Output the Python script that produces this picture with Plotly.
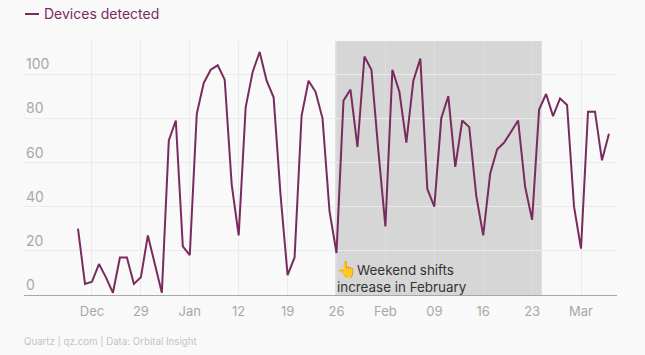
import pandas as pd
import plotly.graph_objects as go

series_name = "Devices detected"
start_date = "2019-12-20"
devices = [30, 5, 6, 14, 8, 1, 17, 17, 5, 8, 27, 14, 1, 70, 79, 22, 18, 82, 96, 102, 104, 97.5,
           50, 27, 85, 101, 110, 97, 89.5, 45, 9, 17, 81, 97, 92, 80, 38, 19, 88, 93, 67, 108,
           102, 65, 31, 102, 92, 69, 97, 107, 48, 40, 80, 90, 58, 79, 76, 45, 27, 55, 66, 69,
           74, 79, 49, 34, 84, 91, 81, 89, 86, 40, 21, 83, 83, 61, 73]
dates = pd.date_range(start_date, periods=len(devices), freq="D")

tick_dates = ["2019-12-22", "2019-12-29", "2020-01-05", "2020-01-12", "2020-01-19", "2020-01-26",
              "2020-02-02", "2020-02-09", "2020-02-16", "2020-02-23", "2020-03-01"]
tick_labels = ["Dec", "29", "Jan", "12", "19", "26", "Feb", "09", "16", "23", "Mar"]
y_ticks = [0, 20, 40, 60, 80, 100]
shade_start = "2020-01-25 20:00"
shade_end = "2020-02-24 09:00"
emoji = "👆"
annotation_lines = ["Weekend shifts", "increase in February"]
source = "Quartz | qz.com | Data: Orbital Insight"

W, H = 645, 355
L, R, T, B = 24, 617, 41, 295
BG = "#f9f9f9"
PURPLE = "#7a2b5e"
FONT = "Inter, Lato, sans-serif"

fig = go.Figure(go.Scatter(x=dates, y=devices, mode="lines", name=series_name,
                           line=dict(color=PURPLE, width=2), cliponaxis=False,
                           hoverinfo="x+y"))

fig.add_shape(type="rect", xref="x", yref="paper", x0=shade_start, x1=shade_end, y0=0, y1=1,
              fillcolor="#d6d6d6", line_width=0, layer="below")
fig.add_shape(type="line", xref="paper", yref="paper",
              x0=(25 - L) / (R - L), x1=(39 - L) / (R - L),
              y0=(B - 14) / (B - T), y1=(B - 14) / (B - T),
              line=dict(color=PURPLE, width=2))

fig.add_annotation(text=series_name, xref="paper", yref="paper", x=(44 - L) / (R - L),
                   y=(B - 14) / (B - T), xanchor="left", yanchor="middle", showarrow=False,
                   borderpad=0, xshift=-1,
                   font=dict(family=FONT, size=14, color=PURPLE))
fig.add_annotation(text='<span style="font-size:16px">' + emoji + "</span>"
                        + "<br>".join(annotation_lines),
                   xref="paper", yref="paper",
                   x=(337 - L) / (R - L), y=(B - 276.5) / (B - T), xanchor="left", yanchor="middle",
                   align="left", showarrow=False, borderpad=0, xshift=-1,
                   font=dict(family=FONT, size=13.4, color="#333333"))
fig.add_annotation(text=source, xref="paper", yref="paper", x=0, y=(B - 341) / (B - T),
                   xanchor="left", yanchor="middle", showarrow=False, borderpad=0, xshift=-1,
                   font=dict(family=FONT, size=9.7, color="#c4c4c4"))

fig.update_layout(
    width=W, height=H, autosize=False,
    margin=dict(l=L, r=W - R, t=T, b=H - B, pad=0),
    paper_bgcolor=BG, plot_bgcolor=BG, showlegend=False,
    font=dict(family=FONT, size=13, color="#a8a8a8"),
    xaxis=dict(type="date", range=["2019-12-12 06:30", "2020-03-06 03:36"],
               tickmode="array", tickvals=tick_dates, ticktext=tick_labels,
               showgrid=True, gridcolor="rgba(225,225,225,0.6)", gridwidth=1,
               showline=True, linecolor="#a8a8a8", linewidth=1, ticks="", zeroline=False,
               ticklabelstandoff=4, tickfont=dict(size=13, color="#a8a8a8")),
    yaxis=dict(range=[0, 115], tickmode="array", tickvals=y_ticks,
               ticklabelposition="inside top", showgrid=True,
               gridcolor="#ebebeb", gridwidth=1, zeroline=False,
               showline=False, ticks="", ticklabelstandoff=-1,
               tickfont=dict(size=14, color="#a8a8a8")),
)

fig.write_html("out.html", config={"displayModeBar": False}, post_script=(
    "document.documentElement.style.background='%s';"
    "document.body.style.margin='0';document.body.style.overflow='hidden';" % BG))
